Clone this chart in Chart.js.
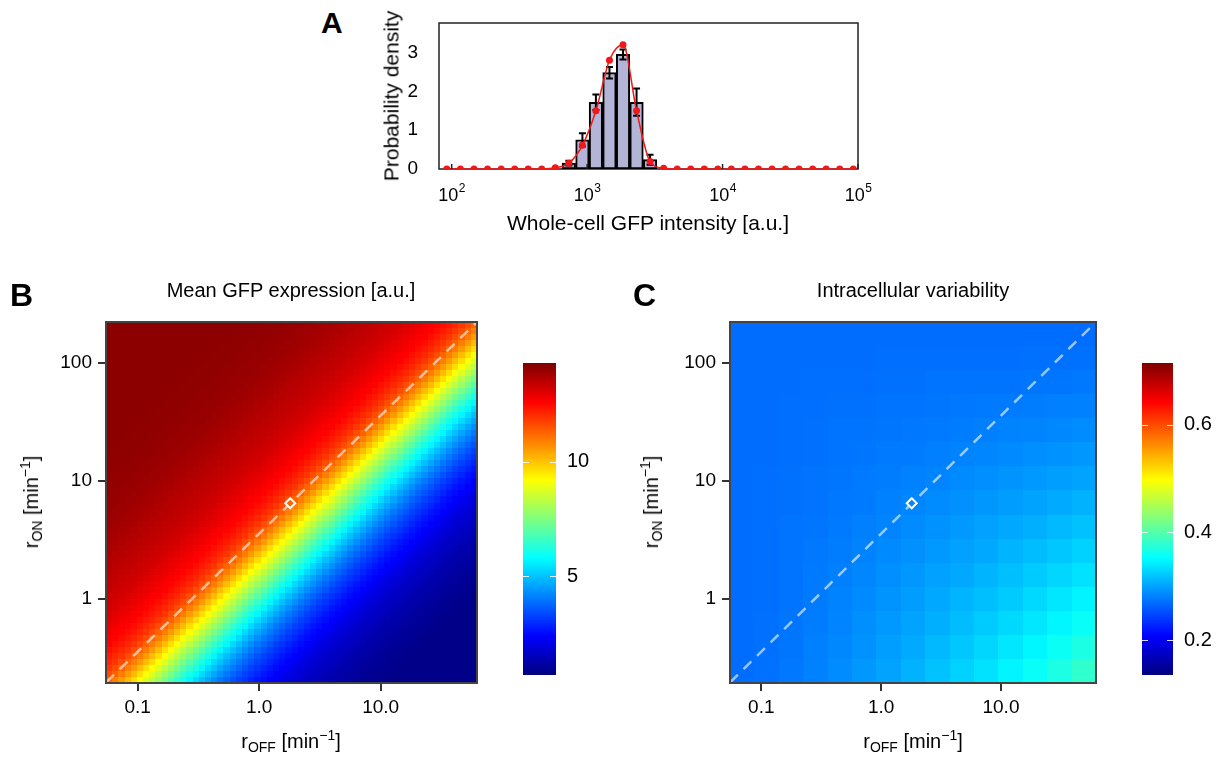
<!DOCTYPE html>
<html>
<head>
<meta charset="utf-8">
<script src="https://cdn.jsdelivr.net/npm/chart.js@4.4.0/dist/chart.umd.min.js"></script>
<style>
  body { margin: 0; background: #fff; }
  #fig { position: relative; width: 1222px; height: 759px; overflow: hidden;
         font-family: 'Liberation Sans', Arial, sans-serif; color: #000; }
  canvas { position: absolute; }
  .lbl { position: absolute; white-space: nowrap; line-height: 1; }
  .rot { transform: translate(-50%, -50%) rotate(-90deg); }
  .lbl sub, .lbl sup { font-size: 70%; line-height: 0; }
  .lbl sub { vertical-align: -0.25em; }
  .lbl sup { vertical-align: 0.55em; }
</style>
</head>
<body>
<div id="fig">
  <canvas id="histChart" style="left:360px;top:0px" width="520" height="240"></canvas>
  <canvas id="meanChart" style="left:0px;top:310px" width="490" height="449"></canvas>
  <canvas id="meanBar" style="left:500px;top:340px" width="100" height="360"></canvas>
  <canvas id="varChart" style="left:620px;top:310px" width="490" height="449"></canvas>
  <canvas id="varBar" style="left:1120px;top:340px" width="102" height="360"></canvas>

  <div class="lbl" style="left:321px;top:8px;font-size:30px;font-weight:bold">A</div>
  <div class="lbl" style="left:10px;top:279px;font-size:32px;font-weight:bold">B</div>
  <div class="lbl" style="left:633px;top:279px;font-size:32px;font-weight:bold">C</div>

  <div class="lbl" style="left:391px;top:96px;font-size:21px" ><div class="rot" style="position:absolute">Probability density</div></div>
  <div class="lbl" style="left:448px;top:212px;width:400px;text-align:center;font-size:21px">Whole-cell GFP intensity [a.u.]</div>

  <div class="lbl" style="left:91px;top:280px;width:400px;text-align:center;font-size:20px">Mean GFP expression [a.u.]</div>
  <div class="lbl" style="left:713px;top:280px;width:400px;text-align:center;font-size:20px">Intracellular variability</div>

  <div class="lbl" style="left:91px;top:731px;width:400px;text-align:center;font-size:20px">r<sub>OFF</sub> [min<sup>&minus;1</sup>]</div>
  <div class="lbl" style="left:713px;top:731px;width:400px;text-align:center;font-size:20px">r<sub>OFF</sub> [min<sup>&minus;1</sup>]</div>
  <div class="lbl" style="left:31px;top:502px;font-size:20px"><div class="rot" style="position:absolute">r<sub>ON</sub> [min<sup>&minus;1</sup>]</div></div>
  <div class="lbl" style="left:651px;top:502px;font-size:20px"><div class="rot" style="position:absolute">r<sub>ON</sub> [min<sup>&minus;1</sup>]</div></div>
</div>

<script>
// ---- panel A: histogram of whole-cell GFP intensity ----
const binCenters = [733, 923, 1161, 1462, 1841, 2317, 2917];
const binDensity = [0.15, 0.75, 1.72, 2.48, 2.95, 1.72, 0.24];
const binError = [0.06, 0.17, 0.20, 0.15, 0.13, 0.35, 0.13];

const fitIntensity = [92, 116, 146, 184, 232, 292, 367, 462, 582, 733, 923, 1161, 1462, 1841, 2317,
  2917, 3673, 4624, 5821, 7328, 9226, 11614, 14622, 18408, 23174, 29174, 36728, 46238, 58210, 73282, 92257];
const fitDensity = [0, 0, 0, 0, 0, 0, 0, 0, 0.03, 0.15, 0.61, 1.50, 2.80, 3.20, 1.50,
  0.19, 0.02, 0, 0, 0, 0, 0, 0, 0, 0, 0, 0, 0, 0, 0, 0];

const histTicks = [100, 1000, 10000, 100000];
const histTickPowers = ['2', '3', '4', '5'];
const densityTicks = [0, 1, 2, 3];

// ---- panels B and C: parameter sweep over rOFF / rON ----
const rOffRange = [0.0548, 62.1];
const rOnRange = [0.195, 223];
const rOffTicks = [0.1, 1, 10];
const rOffTickLabels = ['0.1', '1.0', '10.0'];
const rOnTicks = [1, 10, 100];
const rOnTickLabels = ['1', '10', '100'];
const sweepCells = 60;

// dashed line and chosen parameter set
const lineROff = [0.0548, 62.1];
const lineROn = [0.197, 223];
const chosenROff = [1.8];
const chosenROn = [6.5];

// mean GFP read along the diagonals, offset d = column - row, starting at d = -40
const meanOffsetStart = -40;
const meanByOffset = [
  14.15, 14.15, 14.14, 14.13, 14.12, 14.11, 14.10, 14.09, 14.08, 14.06,
  14.05, 14.0, 14.0, 13.95, 13.95, 13.9, 13.85, 13.8, 13.75, 13.7,
  13.65, 13.6, 13.55, 13.5, 13.45, 13.4, 13.3, 13.25, 13.2, 13.1,
  13.0, 12.9, 12.8, 12.7, 12.6, 12.45, 12.3, 12.1, 11.9, 11.6,
  11.3, 10.95, 10.55, 10.1, 9.65, 9.2, 8.75, 8.3, 7.85, 7.4,
  6.95, 6.5, 6.1, 5.7, 5.3, 4.95, 4.6, 4.3, 4.0, 3.75,
  3.5, 3.25, 3.05, 2.85, 2.65, 2.5, 2.35, 2.2, 2.05, 1.9,
  1.8, 1.7, 1.6, 1.5, 1.4, 1.3, 1.25, 1.2, 1.1, 1.05,
  1.0, 0.95, 0.9, 0.87, 0.84, 0.8
];
const meanTicks = [5, 10];
const meanTickLabels = ['5', '10'];
const meanRange = [0.66, 14.34];

// intracellular variability, 15 x 15 blocks, top row = highest rON
const variability = [
  [0.270, 0.270, 0.270, 0.270, 0.270, 0.270, 0.270, 0.270, 0.270, 0.270, 0.270, 0.270, 0.270, 0.270, 0.270],
  [0.270, 0.270, 0.270, 0.270, 0.270, 0.270, 0.271, 0.271, 0.271, 0.271, 0.271, 0.271, 0.272, 0.272, 0.272],
  [0.270, 0.270, 0.270, 0.271, 0.271, 0.271, 0.272, 0.272, 0.273, 0.273, 0.274, 0.274, 0.275, 0.275, 0.276],
  [0.270, 0.270, 0.271, 0.271, 0.272, 0.272, 0.273, 0.274, 0.275, 0.276, 0.277, 0.278, 0.279, 0.280, 0.281],
  [0.270, 0.270, 0.271, 0.272, 0.273, 0.274, 0.275, 0.276, 0.277, 0.279, 0.280, 0.282, 0.283, 0.285, 0.287],
  [0.270, 0.270, 0.271, 0.272, 0.274, 0.275, 0.277, 0.278, 0.280, 0.282, 0.284, 0.286, 0.289, 0.291, 0.294],
  [0.270, 0.271, 0.272, 0.273, 0.275, 0.277, 0.279, 0.281, 0.283, 0.286, 0.289, 0.292, 0.295, 0.298, 0.301],
  [0.270, 0.271, 0.272, 0.274, 0.276, 0.278, 0.281, 0.284, 0.287, 0.290, 0.294, 0.297, 0.301, 0.305, 0.309],
  [0.270, 0.271, 0.273, 0.275, 0.277, 0.280, 0.283, 0.287, 0.291, 0.295, 0.299, 0.303, 0.308, 0.313, 0.318],
  [0.270, 0.271, 0.273, 0.276, 0.279, 0.282, 0.286, 0.290, 0.295, 0.299, 0.304, 0.310, 0.315, 0.321, 0.327],
  [0.270, 0.271, 0.274, 0.277, 0.280, 0.284, 0.289, 0.294, 0.299, 0.304, 0.310, 0.316, 0.323, 0.329, 0.336],
  [0.270, 0.271, 0.274, 0.278, 0.282, 0.286, 0.292, 0.297, 0.303, 0.310, 0.316, 0.323, 0.331, 0.339, 0.347],
  [0.270, 0.272, 0.275, 0.279, 0.283, 0.289, 0.295, 0.301, 0.308, 0.315, 0.323, 0.331, 0.339, 0.348, 0.357],
  [0.270, 0.272, 0.275, 0.280, 0.285, 0.291, 0.298, 0.305, 0.313, 0.321, 0.329, 0.339, 0.348, 0.358, 0.368],
  [0.270, 0.272, 0.276, 0.281, 0.287, 0.294, 0.301, 0.309, 0.318, 0.327, 0.336, 0.347, 0.357, 0.368, 0.380]
];
const varTicks = [0.2, 0.4, 0.6];
const varTickLabels = ['0.2', '0.4', '0.6'];
const varRange = [0.135, 0.715];

Chart.defaults.font.family = "'Liberation Sans', Arial, sans-serif";
Chart.defaults.color = '#000';
Chart.defaults.animation = false;

const FONT = "'Liberation Sans', Arial, sans-serif";

// jet-like palette used by the colour bars
const jetStops = [[0,0,127],[0,0,255],[0,127,255],[0,255,255],[127,255,127],[255,255,0],[255,127,0],[255,0,0],[127,0,0]];
function jet(v, lo, hi) {
  let t = (v - lo) / (hi - lo);
  t = Math.max(0, Math.min(1, t)) * 8;
  const k = Math.min(Math.floor(t), 7), f = t - k;
  const a = jetStops[k], b = jetStops[k + 1];
  return 'rgb(' + a.map((c, i) => Math.round(c + (b[i] - c) * f)).join(',') + ')';
}

function meanAt(i, j) {
  const k = Math.max(0, Math.min(meanByOffset.length - 1, (i - j) - meanOffsetStart));
  return meanByOffset[k];
}

// keep the chart area where the layout padding puts it (no label overflow padding)
function noScalePadding(s) {
  s.paddingTop = 0; s.paddingBottom = 0; s.paddingLeft = 0; s.paddingRight = 0;
}

// ---------------- panel A ----------------
const histExtras = {
  id: 'histExtras',
  beforeDatasetsDraw(chart) {
    const { ctx, chartArea: a } = chart;
    ctx.save();
    ctx.strokeStyle = '#222';
    ctx.lineWidth = 1.5;
    ctx.strokeRect(a.left, a.top, a.right - a.left, a.bottom - a.top);
    ctx.restore();
  },
  afterDatasetDraw(chart, args) {
    if (args.index !== 0) return;
    const { ctx, scales: { x, y } } = chart;
    ctx.save();
    ctx.strokeStyle = '#000';
    ctx.lineWidth = 2;
    binCenters.forEach((c, i) => {
      const px = x.getPixelForValue(c);
      const top = y.getPixelForValue(binDensity[i] + binError[i]);
      const bot = y.getPixelForValue(Math.max(0, binDensity[i] - binError[i]));
      ctx.beginPath();
      ctx.moveTo(px, top); ctx.lineTo(px, bot);
      ctx.moveTo(px - 3.5, top); ctx.lineTo(px + 3.5, top);
      ctx.moveTo(px - 3.5, bot); ctx.lineTo(px + 3.5, bot);
      ctx.stroke();
    });
    ctx.restore();
  },
  afterDraw(chart) {
    const { ctx, scales: { x }, chartArea: a } = chart;
    ctx.save();
    ctx.fillStyle = '#000';
    ctx.strokeStyle = '#222';
    ctx.lineWidth = 1.5;
    histTicks.forEach((v, i) => {
      const px = x.getPixelForValue(v);
      ctx.font = '18px ' + FONT;
      const wb = ctx.measureText('10').width;
      ctx.font = '12px ' + FONT;
      const we = ctx.measureText(histTickPowers[i]).width;
      const left = px - (wb + we) / 2;
      ctx.font = '18px ' + FONT;
      ctx.fillText('10', left, 201);
      ctx.font = '12px ' + FONT;
      ctx.fillText(histTickPowers[i], left + wb + 0.5, 192);
      ctx.beginPath();
      ctx.moveTo(px, a.bottom); ctx.lineTo(px, a.bottom - 5);
      ctx.stroke();
    });
    ctx.restore();
  }
};

new Chart(document.getElementById('histChart'), {
  type: 'bar',
  data: {
    datasets: [{
      type: 'bar',
      data: binCenters.map((c, i) => ({ x: c, y: binDensity[i] })),
      backgroundColor: 'rgb(180,180,215)',
      borderColor: '#000',
      borderWidth: 2,
      borderSkipped: false,
      barPercentage: 1,
      categoryPercentage: 1,
      order: 2
    }, {
      type: 'line',
      data: fitIntensity.map((c, i) => ({ x: c, y: fitDensity[i] })),
      borderColor: '#f01818',
      borderWidth: 1.5,
      pointRadius: 3.5,
      pointBorderWidth: 0,
      pointBackgroundColor: '#f01818',
      cubicInterpolationMode: 'monotone',
      order: 1
    }]
  },
  options: {
    responsive: false,
    devicePixelRatio: 1,
    layout: { padding: { top: 23, right: 22, left: 0, bottom: 0 } },
    plugins: { legend: { display: false }, tooltip: { enabled: false } },
    scales: {
      x: {
        type: 'logarithmic',
        min: 80.6,
        max: 100000,
        offset: false,
        grid: { display: false, drawTicks: false, offset: false },
        border: { display: false },
        afterBuildTicks: s => { s.ticks = histTicks.map(v => ({ value: v })); },
        ticks: { callback: () => '' },
        afterFit: s => { s.height = 71; noScalePadding(s); }
      },
      y: {
        min: 0,
        max: 3.76,
        grid: { display: false, drawTicks: false },
        border: { display: false },
        afterBuildTicks: s => { s.ticks = densityTicks.map(v => ({ value: v })); },
        ticks: { font: { size: 19 }, padding: 21 },
        afterFit: s => { s.width = 79; noScalePadding(s); }
      }
    }
  },
  plugins: [histExtras]
});

// ---------------- panels B and C ----------------
function cellsPlugin(nx, ny, valueAt, lo, hi) {
  return {
    id: 'sweepCells',
    beforeDatasetsDraw(chart) {
      const { ctx, scales: { x, y } } = chart;
      const lx0 = Math.log10(x.min), lx1 = Math.log10(x.max);
      const ly0 = Math.log10(y.min), ly1 = Math.log10(y.max);
      const xs = [], ys = [];
      for (let i = 0; i <= nx; i++) xs.push(Math.round(x.getPixelForValue(Math.pow(10, lx0 + (lx1 - lx0) * i / nx))));
      for (let j = 0; j <= ny; j++) ys.push(Math.round(y.getPixelForValue(Math.pow(10, ly0 + (ly1 - ly0) * j / ny))));
      ctx.save();
      for (let i = 0; i < nx; i++) {
        for (let j = 0; j < ny; j++) {
          ctx.fillStyle = jet(valueAt(i, j), lo, hi);
          ctx.fillRect(xs[i], ys[j + 1], xs[i + 1] - xs[i], ys[j] - ys[j + 1]);
        }
      }
      ctx.restore();
    },
    afterDatasetsDraw(chart) {
      const { ctx, chartArea: a } = chart;
      ctx.save();
      ctx.strokeStyle = '#444';
      ctx.lineWidth = 2;
      ctx.strokeRect(a.left, a.top, a.right - a.left, a.bottom - a.top);
      ctx.restore();
    }
  };
}

function cellIndex(v, range, n) {
  const l0 = Math.log10(range[0]), l1 = Math.log10(range[1]);
  return Math.floor((Math.log10(v) - l0) / (l1 - l0) * n);
}

function sweepChart(id, yAxisWidth, padRight, nx, ny, valueAt, lo, hi) {
  const ci = cellIndex(chosenROff[0], rOffRange, nx);
  const cj = cellIndex(chosenROn[0], rOnRange, ny);
  return new Chart(document.getElementById(id), {
    type: 'scatter',
    data: {
      datasets: [{
        type: 'line',
        data: lineROff.map((v, i) => ({ x: v, y: lineROn[i] })),
        borderColor: 'rgba(255,255,255,0.6)',
        borderWidth: 2.5,
        borderDash: [11, 8],
        pointRadius: 0,
        order: 2
      }, {
        data: chosenROff.map((v, i) => ({ x: v, y: chosenROn[i] })),
        pointStyle: 'rectRot',
        pointRadius: 5,
        borderColor: '#fff',
        borderWidth: 2,
        backgroundColor: jet(valueAt(ci, cj), lo, hi),
        order: 1
      }]
    },
    options: {
      responsive: false,
      devicePixelRatio: 1,
      layout: { padding: { top: 12, right: padRight, left: 0, bottom: 0 } },
      plugins: { legend: { display: false }, tooltip: { enabled: false } },
      scales: {
        x: {
          type: 'logarithmic',
          min: rOffRange[0],
          max: rOffRange[1],
          grid: { display: true, drawOnChartArea: false, drawTicks: true, tickLength: 8, color: '#333', lineWidth: 2 },
          border: { display: false },
          afterBuildTicks: s => { s.ticks = rOffTicks.map(v => ({ value: v })); },
          ticks: { callback: (v, i) => rOffTickLabels[i], font: { size: 19 }, padding: 5, maxRotation: 0, autoSkip: false },
          afterFit: s => { s.height = 76; noScalePadding(s); }
        },
        y: {
          type: 'logarithmic',
          min: rOnRange[0],
          max: rOnRange[1],
          grid: { display: true, drawOnChartArea: false, drawTicks: true, tickLength: 8, color: '#333', lineWidth: 2 },
          border: { display: false },
          afterBuildTicks: s => { s.ticks = rOnTicks.map(v => ({ value: v })); },
          ticks: { callback: (v, i) => rOnTickLabels[i], font: { size: 19 }, padding: 6, autoSkip: false },
          afterFit: s => { s.width = yAxisWidth; noScalePadding(s); }
        }
      }
    },
    plugins: [cellsPlugin(nx, ny, valueAt, lo, hi)]
  });
}

sweepChart('meanChart', 106, 13, sweepCells, sweepCells, meanAt, meanRange[0], meanRange[1]);
sweepChart('varChart', 110, 14, variability[0].length, variability.length,
  (i, j) => variability[variability.length - 1 - j][i], varRange[0], varRange[1]);

// ---------------- colour bars ----------------
function colourBar(id, padLeft, axisWidth, range, ticks, labels) {
  const gradient = {
    id: 'gradient',
    beforeDraw(chart) {
      const { ctx, chartArea: a, scales: { y } } = chart;
      ctx.save();
      for (let py = a.top; py < a.bottom; py++) {
        ctx.fillStyle = jet(y.getValueForPixel(py + 0.5), range[0], range[1]);
        ctx.fillRect(a.left, py, a.right - a.left, 1);
      }
      ctx.strokeStyle = 'rgba(255,255,255,0.85)';
      ctx.lineWidth = 1;
      ticks.forEach(v => {
        const py = Math.round(y.getPixelForValue(v)) + 0.5;
        ctx.beginPath();
        ctx.moveTo(a.left, py); ctx.lineTo(a.left + 6, py);
        ctx.moveTo(a.right - 6, py); ctx.lineTo(a.right, py);
        ctx.stroke();
      });
      ctx.restore();
    }
  };
  return new Chart(document.getElementById(id), {
    type: 'scatter',
    data: { datasets: [] },
    options: {
      responsive: false,
      devicePixelRatio: 1,
      layout: { padding: { top: 23, right: 0, left: padLeft, bottom: 25 } },
      plugins: { legend: { display: false }, tooltip: { enabled: false } },
      scales: {
        x: { display: false, min: 0, max: 1 },
        y: {
          position: 'right',
          min: range[0],
          max: range[1],
          grid: { display: false, drawTicks: false },
          border: { display: false },
          afterBuildTicks: s => { s.ticks = ticks.map(v => ({ value: v })); },
          ticks: { callback: (v, i) => labels[i], font: { size: 20 }, padding: 11, autoSkip: false },
          afterFit: s => { s.width = axisWidth; noScalePadding(s); }
        }
      }
    },
    plugins: [gradient]
  });
}

colourBar('meanBar', 23, 44, meanRange, meanTicks, meanTickLabels);
colourBar('varBar', 22, 49, varRange, varTicks, varTickLabels);
</script>
</body>
</html>
